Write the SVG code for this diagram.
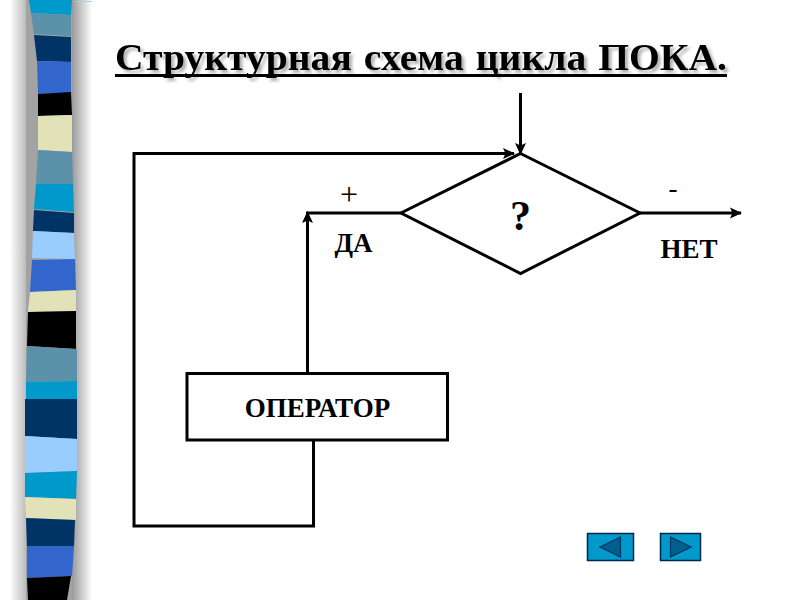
<svg xmlns="http://www.w3.org/2000/svg" width="800" height="600" viewBox="0 0 800 600">
<style>
.ln{fill:none;stroke:#000;stroke-width:3}
.t{font-family:"Liberation Serif","Times New Roman",serif;font-weight:bold;fill:#000;text-anchor:middle}
.r{font-family:"Liberation Serif","Times New Roman",serif;fill:#000;text-anchor:middle}
.btn{fill:#0099cc;stroke:#00264d;stroke-width:1.5}
.tri{fill:#005f8f;stroke:#00335c;stroke-width:1.2}
</style>
<defs>
<linearGradient id="sl" x1="0" x2="1" y1="0" y2="0"><stop offset="0" stop-color="#fff"/><stop offset="1" stop-color="#999"/></linearGradient>
<linearGradient id="sr" x1="0" x2="1" y1="0" y2="0"><stop offset="0" stop-color="#999"/><stop offset="1" stop-color="#fff"/></linearGradient>
<marker id="ah" markerUnits="userSpaceOnUse" markerWidth="14" markerHeight="12" refX="11" refY="6" orient="auto"><path d="M0 0.500L12 6L0 11.500L2.500 6Z" fill="#000"/></marker>
<filter id="sh" x="-3%" y="-30%" width="106%" height="170%"><feDropShadow dx="3" dy="3" stdDeviation="1.6" flood-color="#000" flood-opacity=".3"/></filter>
</defs>
<rect width="800" height="600" fill="#fff"/>
<g id="bar">
<rect x="10" y="0" width="24" height="600" fill="url(#sl)"/>
<path d="M26 0H72V600H26Z" fill="#a3a3a3"/>
<rect x="72" y="0" width="20" height="600" fill="url(#sr)"/>
<path d="M29 0L72 0L71 15L31 13Z" fill="#0099cc"/>
<path d="M31 13L71 15L71 36L34 34Z" fill="#5b91a9"/>
<path d="M34 35L71 37L71 62L37 61Z" fill="#003366"/>
<path d="M37 61L71 62L71 93L38 94Z" fill="#3366cc"/>
<path d="M38 94L71 92L72 115L38 116Z" fill="#000"/>
<path d="M38 116L72 115L72 152L38 150Z" fill="#e2e2b8"/>
<path d="M38 150L72 152L73 184L36 184Z" fill="#5b91a9"/>
<path d="M36 184L73 184L74 212L34 209Z" fill="#0099cc"/>
<path d="M34 210L74 213L74 233L33 231Z" fill="#003366"/>
<path d="M33 231L74 233L75 259L32 258Z" fill="#99ccff"/>
<path d="M32 260L75 259L76 290L30 292Z" fill="#3366cc"/>
<path d="M30 292L76 290L76 311L28 312Z" fill="#e2e2b8"/>
<path d="M28 312L76 311L76 349L27 346Z" fill="#000"/>
<path d="M27 346L77 349L77 381L26 382Z" fill="#5b91a9"/>
<path d="M26 382L77 381L77 399L26 399Z" fill="#0099cc"/>
<path d="M25 399L77 399L77 439L25 436Z" fill="#003366"/>
<path d="M25 436L77 439L77 471L25 473Z" fill="#99ccff"/>
<path d="M25 473L77 471L76 499L25 497Z" fill="#0099cc"/>
<path d="M25 497L76 499L76 520L26 518Z" fill="#e2e2b8"/>
<path d="M26 518L75 520L74 546L27 546Z" fill="#003366"/>
<path d="M27 546L74 546L72 576L27 578Z" fill="#3366cc"/>
<path d="M27 578L71 576L67 600L28 600Z" fill="#000"/>
<path d="M73 1H92V2H78Z" fill="#a8cfe6"/>
</g>
<g id="title">
<text x="421" y="70" class="t" font-size="37" word-spacing="2" textLength="612" lengthAdjust="spacingAndGlyphs" filter="url(#sh)">Структурная схема цикла ПОКА.</text>
<rect x="115" y="74" width="612" height="3" fill="#000"/>
</g>
<g id="connectors">
<path class="ln" d="M520.500 93V154" marker-end="url(#ah)"/>
<path class="ln" d="M313.500 440V526H134V153.500H514" marker-end="url(#ah)"/>
<path class="ln" d="M401 213H306"/>
<path class="ln" d="M307.500 373V212" marker-end="url(#ah)"/>
<path class="ln" d="M640 213H741" marker-end="url(#ah)"/>
</g>
<g id="decision">
<path class="ln" d="M520.500 153.500L640 213L520.500 273.500L401 213Z"/>
<text x="520.500" y="230" class="t" font-size="42">?</text>
</g>
<g id="operator">
<rect class="ln" x="187" y="373.500" width="260.500" height="66.500"/>
<text x="317.500" y="417" class="t" font-size="27">ОПЕРАТОР</text>
</g>
<g id="labels">
<text x="349" y="205" class="r" font-size="32">+</text>
<text x="353.500" y="252" class="t" font-size="27">ДА</text>
<text x="673" y="197" class="r" font-size="27">-</text>
<text x="689" y="258" class="t" font-size="27">НЕТ</text>
</g>
<g id="nav-back">
<rect class="btn" x="587.500" y="533.500" width="46" height="27"/>
<path class="tri" d="M600 547L620.500 537V557Z"/>
</g>
<g id="nav-forward">
<rect class="btn" x="660.500" y="533.500" width="40" height="27"/>
<path class="tri" d="M670.500 537L691 547L670.500 557Z"/>
</g>
</svg>
